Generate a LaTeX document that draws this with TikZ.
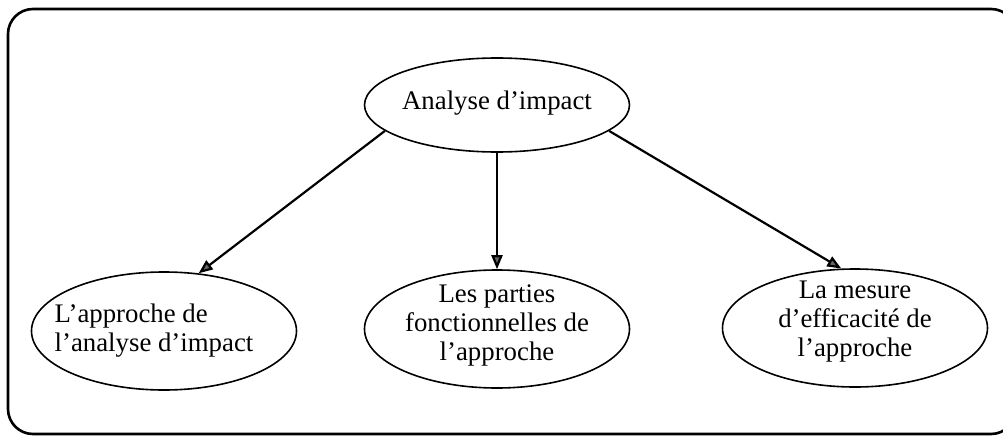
\documentclass[tikz,border=0pt]{standalone}
\usepackage{fontspec}
\setmainfont{Liberation Serif}
\usetikzlibrary{shapes.geometric,arrows.meta}
% Text set in a zero-size box, so the ellipse keeps its own fixed size.
% #1 column alignment, #2 horizontal shift, #3 vertical shift, #4 lines
\newcommand\bubbletext[4]{\makebox[0pt]{\kern#2\smash{\raisebox{#3}{%
  \begin{tabular}{@{}#1@{}}#4\end{tabular}}}\kern-#2}}
\begin{document}
\begin{tikzpicture}[x=1pt,y=-1pt,
  bubble/.style={ellipse, draw, line width=1.6pt, inner sep=0pt,
    minimum width=265pt, minimum height=118pt,
    font=\fontsize{26.8}{29}\selectfont},
  link/.style={line width=2.2pt,
    -{Triangle[length=14pt,width=11pt,fill=black!60]}}]
  \useasboundingbox (0,0) rectangle (1003,436);
  \clip (0,0) rectangle (1003,436);
  % outer frame
  \draw[line width=2.6pt, rounded corners=25pt] (8,9) rectangle (1016,434);
  % nodes
  \node[bubble, minimum height=94pt] (top) at (497,105)
    {\bubbletext{c}{0pt}{-5pt}{Analyse d’impact}};
  \node[bubble] (left) at (164,331)
    {\bubbletext{l}{-10pt}{-6pt}{L’approche de\\l’analyse d’impact}};
  \node[bubble] (mid) at (497,329)
    {\bubbletext{c}{0pt}{-3pt}{Les parties\\fonctionnelles de\\l’approche}};
  \node[bubble] (right) at (855,328)
    {\bubbletext{c}{0pt}{0pt}{La mesure\\d’efficacité de\\l’approche}};
  % connectors
  \draw[link] (top.193) -- (left.59);
  \draw[link] (top.south) -- (mid.north);
  \draw[link] (top.347) -- (right.103);
\end{tikzpicture}
\end{document}
